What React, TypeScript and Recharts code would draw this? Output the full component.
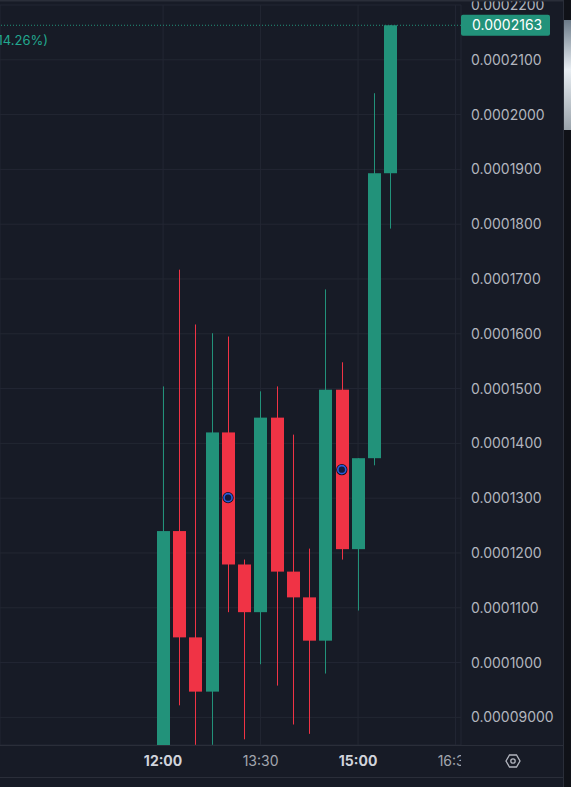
import React from 'react';
import { ComposedChart, Bar, XAxis, YAxis, CartesianGrid, ReferenceLine, Scatter } from 'recharts';

// ---- data (15-minute candles, time in minutes since midnight) ----
const times = [720, 735, 750, 765, 780, 795, 810, 825, 840, 855, 870, 885, 900, 915, 930];
const opens = [0.0000780, 0.0001240, 0.0001046, 0.0000947, 0.0001420, 0.0001179, 0.0001092, 0.0001447, 0.0001166, 0.0001119, 0.0001040, 0.0001498, 0.0001207, 0.0001373, 0.0001893];
const highs = [0.0001504, 0.0001717, 0.0001617, 0.0001601, 0.0001595, 0.0001188, 0.0001495, 0.0001504, 0.0001416, 0.0001208, 0.0001681, 0.0001548, 0.0001373, 0.0002039, 0.0002163];
const lows = [0.0000760, 0.0000922, 0.0000850, 0.0000850, 0.0001092, 0.0000860, 0.0000997, 0.0000958, 0.0000887, 0.0000870, 0.0000980, 0.0001188, 0.0001095, 0.0001360, 0.0001792];
const closes = [0.0001240, 0.0001046, 0.0000947, 0.0001420, 0.0001179, 0.0001092, 0.0001447, 0.0001166, 0.0001119, 0.0001040, 0.0001498, 0.0001207, 0.0001373, 0.0001893, 0.0002163];

const markerTimes = [780, 885];
const markerPrices = [0.0001301, 0.0001352];

const yTicks = [0.00009, 0.0001, 0.00011, 0.00012, 0.00013, 0.00014, 0.00015, 0.00016, 0.00017, 0.00018, 0.00019, 0.0002, 0.00021, 0.00022];
const xTicks = [720, 810, 900, 990];
const xTickLabels = ['12:00', '13:30', '15:00', '16:30'];
const xTickBold = [true, false, true, false];

const lastPrice = 0.0002163;
const lastPriceLabel = '0.0002163';
const legendChange = '+0.0000270 (+14.26%)';

// ---- styling ----
const BG = '#171b26';
const GRID = '#232733';
const GREEN = '#22927a';
const RED = '#f03345';
const TEXT = '#b2b5be';
const FONT = 'Inter, "Noto Sans", sans-serif';

const candles = times.map((t, i) => ({ t, open: opens[i], high: highs[i], low: lows[i], close: closes[i] }));
const markers = markerTimes.map((t, i) => ({ t, price: markerPrices[i] }));

const fmtPrice = (v: number) => (v < 0.0000999999 ? v.toFixed(8) : v.toFixed(7));

const Body = (props: any) => {
  const { x, y, width, height, payload } = props;
  if (x == null || y == null) return null;
  const c = x + width / 2;
  const left = Math.round(c - 6.5);
  const top = Math.min(y, y + height);
  const h = Math.max(1, Math.abs(height));
  const color = payload.close >= payload.open ? GREEN : RED;
  return <rect x={left} y={top} width={13} height={h} fill={color} />;
};

const Wick = (props: any) => {
  const { x, y, width, height, payload } = props;
  if (x == null || y == null) return null;
  const c = x + width / 2;
  const left = Math.round(c - 6.5) + 6;
  const top = Math.min(y, y + height);
  const h = Math.max(1, Math.abs(height));
  const color = payload.close >= payload.open ? GREEN : RED;
  return <rect x={left} y={top} width={1} height={h} fill={color} />;
};

const Marker = (props: any) => {
  const { cx, cy } = props;
  if (cx == null || cy == null) return null;
  return (
    <g>
      <circle cx={cx} cy={cy} r={5.6} fill="#0a0d18" />
      <circle cx={cx} cy={cy} r={4} fill="#111a3c" stroke="#2a5bd7" strokeWidth={1.7} />
    </g>
  );
};

const YTick = (props: any) => {
  const { y, payload } = props;
  return (
    <text x={471} y={y} dy="0.36em" fill={TEXT} fontSize={14} fontFamily={FONT} textAnchor="start">
      {fmtPrice(payload.value)}
    </text>
  );
};

const XTick = (props: any) => {
  const { x, payload, index } = props;
  const i = xTicks.indexOf(payload.value);
  const label = i >= 0 ? xTickLabels[i] : '';
  const bold = i >= 0 ? xTickBold[i] : false;
  const id = `xclip-${index}`;
  return (
    <g>
      <defs>
        <clipPath id={id}>
          <rect x={0} y={740} width={461} height={40} />
        </clipPath>
      </defs>
      <text
        clipPath={`url(#${id})`}
        x={x}
        y={761}
        dy="0.36em"
        textAnchor="middle"
        fontSize={14}
        fontFamily={FONT}
        fontWeight={bold ? 700 : 400}
        fill={bold ? '#d1d4dc' : '#a3a6af'}
      >
        {label}
      </text>
    </g>
  );
};

const PriceTag = (props: any) => {
  const vb = props.viewBox || {};
  const x = (vb.x || 0) + (vb.width || 0);
  const y = vb.y || 0;
  return (
    <g>
      <rect x={x} y={y - 10.5} width={89} height={21} rx={2} fill={GREEN} />
      <text x={x + 11} y={y} dy="0.36em" fill="#ffffff" fontSize={14} fontFamily={FONT}>
        {lastPriceLabel}
      </text>
    </g>
  );
};

export default function App() {
  return (
    <div style={{ position: 'absolute', left: 0, top: 0, width: 571, height: 787, background: BG, overflow: 'hidden' }}>
      <ComposedChart
        width={563}
        height={787}
        data={candles}
        margin={{ top: 5, right: 0, bottom: 9, left: 0 }}
      >
        <CartesianGrid stroke={GRID} strokeWidth={1} xAxisId="t" yAxisId="p" />
        <XAxis
          xAxisId="t"
          dataKey="t"
          type="number"
          domain={[569.5, 995]}
          ticks={xTicks}
          allowDataOverflow
          height={33}
          axisLine={false}
          tickLine={false}
          tick={<XTick />}
          interval={0}
        />
        <XAxis xAxisId="w" dataKey="t" type="number" domain={[569.5, 995]} ticks={xTicks} allowDataOverflow hide />
        <YAxis
          yAxisId="p"
          orientation="right"
          width={102}
          type="number"
          domain={[0.00008496, 0.00022]}
          ticks={yTicks}
          allowDataOverflow
          axisLine={false}
          tickLine={false}
          tick={<YTick />}
          interval={0}
        />
        <ReferenceLine
          xAxisId="t"
          yAxisId="p"
          y={lastPrice}
          stroke={GREEN}
          strokeDasharray="1 2"
          strokeWidth={1}
          label={<PriceTag />}
        />
        <Bar
          xAxisId="w"
          yAxisId="p"
          dataKey={(d: any) => [d.low, d.high]}
          barSize={1}
          shape={<Wick />}
          isAnimationActive={false}
        />
        <Bar
          xAxisId="t"
          yAxisId="p"
          dataKey={(d: any) => [Math.min(d.open, d.close), Math.max(d.open, d.close)]}
          barSize={13}
          shape={<Body />}
          isAnimationActive={false}
        />
        <Scatter
          xAxisId="t"
          yAxisId="p"
          data={markers}
          dataKey="price"
          shape={<Marker />}
          isAnimationActive={false}
        />
      </ComposedChart>
      <svg
        width={571}
        height={787}
        style={{ position: 'absolute', left: 0, top: 0, pointerEvents: 'none' }}
      >
        <defs>
          <linearGradient id="strip" x1="0" y1="0" x2="0" y2="1">
            <stop offset="0" stopColor="#6b7a88" />
            <stop offset="0.45" stopColor="#e8eef3" />
            <stop offset="1" stopColor="#9aa3ab" />
          </linearGradient>
        </defs>
        <text x={48} y={40} dy="0.36em" textAnchor="end" fill="#22a88f" fontSize={13} fontFamily={FONT}>
          {legendChange}
        </text>
        <rect x={0} y={0} width={563} height={1.5} fill="#2a2e39" />
        <rect x={0} y={745} width={563} height={1} fill="#2a2e39" />
        <rect x={0} y={777} width={563} height={1} fill="#2a2e39" />
        <rect x={563} y={0} width={1} height={787} fill="#2a2e39" />
        <rect x={564} y={0} width={7} height={787} fill="#101218" />
        <rect x={564} y={20} width={7} height={110} fill="url(#strip)" />
        <g transform="translate(513,761)" fill="none" stroke="#b2b5be" strokeWidth={1.3}>
          <polygon points="-7,0 -3.5,-6 3.5,-6 7,0 3.5,6 -3.5,6" />
          <circle cx={0} cy={0} r={2.2} />
        </g>
      </svg>
    </div>
  );
}
